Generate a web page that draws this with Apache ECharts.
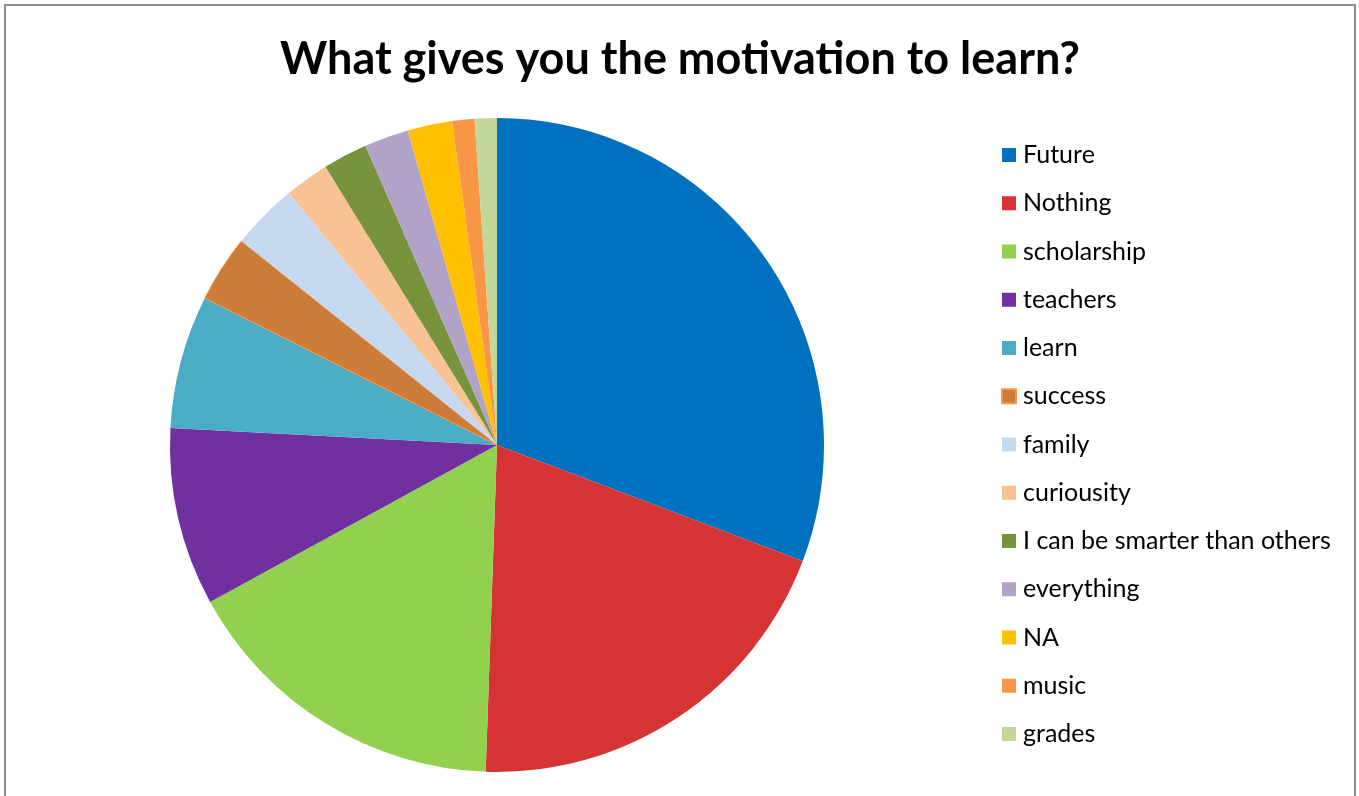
<!DOCTYPE html>
<html><head><meta charset="utf-8">
<script src="https://cdn.jsdelivr.net/npm/echarts@6/dist/echarts.min.js"></script>
<style>html,body{margin:0;padding:0;background:#fff}#c{width:1359px;height:796px}</style>
</head><body><div id="c"></div>
<script>
const categories = ["Future","Nothing","scholarship","teachers","learn","success","family","curiousity","I can be smarter than others","everything","NA","music","grades"];
const values = [28,18,15,8,6,3,3,2,2,2,2,1,1];
const colors = ["#0070C0","#D63434","#92D050","#7030A0","#4BACC6","#CD7B38","#C6D9F1","#F9C294","#77933C","#B1A2C7","#FFC000","#F79646","#C4D79B"];
const titleText = "What gives you the motivation to learn?";

const chart = echarts.init(document.getElementById('c'), null, {renderer:'canvas'});
const data = categories.map((n,i)=>{
  const d = {name:n, value:values[i], itemStyle:{color:colors[i]}};
  if (n === "success") d.itemStyle.borderColor = "#F79646", d.itemStyle.borderWidth = 1;
  return d;
});
chart.setOption({
  animation:false,
  title:{text:titleText, left:680, textAlign:'center', top:37, padding:0,
    textStyle:{fontFamily:'Lato', fontWeight:'bold', fontSize:45, color:'#000'}},
  legend:{orient:'vertical', left:1001, top:142.5, padding:0, itemWidth:14, itemHeight:14, itemGap:23.25,
    icon:'rect', selectedMode:false,
    textStyle:{fontFamily:'Lato', fontSize:25, color:'#000', padding:[0,0,0,2]},
    data:categories},
  graphic:[{type:'rect', shape:{x:5, y:5, width:1350, height:800}, style:{fill:null, stroke:'#8c8c8c', lineWidth:2}, silent:true}],
  series:[{type:'pie', center:[497,445], radius:327, startAngle:90, clockwise:true,
    label:{show:false}, labelLine:{show:false}, emphasis:{disabled:true}, data:data}]
});
</script></body></html>
